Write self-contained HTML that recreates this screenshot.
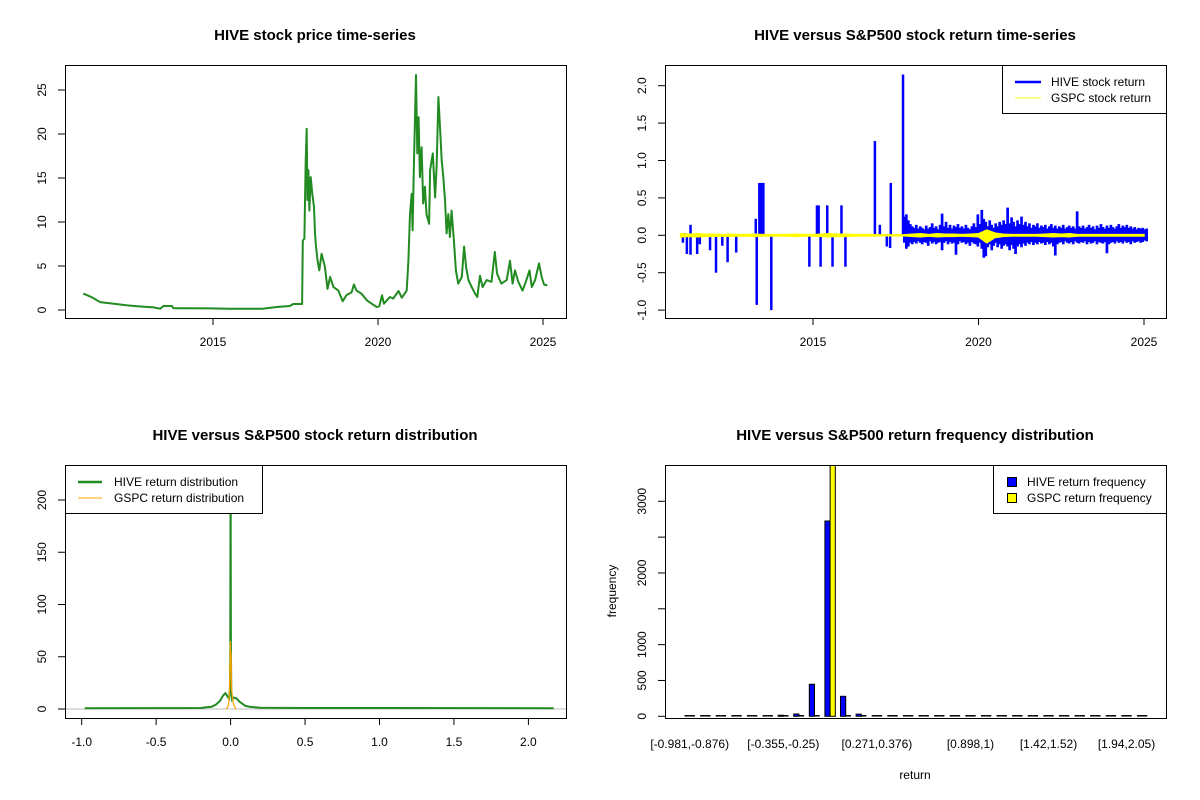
<!DOCTYPE html>
<html><head><meta charset="utf-8"><style>
html,body{margin:0;padding:0;background:#fff;}
svg{display:block;font-family:"Liberation Sans",Arial,sans-serif;}
</style></head><body>
<svg id="c" width="1200" height="800" viewBox="0 0 1200 800" xmlns="http://www.w3.org/2000/svg"></svg>
<script>
// ---------- DATA ----------
const priceYears = [2011.07,2011.3,2011.58,2011.9,2012.38,2012.8,2013.2,2013.4,2013.5,2013.75,2013.8,2014.3,2014.9,2015.5,2016.0,2016.5,2016.93,2017.33,2017.43,2017.7,2017.72,2017.77,2017.81,2017.84,2017.86,2017.89,2017.92,2017.96,2018.01,2018.06,2018.09,2018.12,2018.17,2018.22,2018.29,2018.39,2018.47,2018.55,2018.65,2018.8,2018.93,2019.05,2019.2,2019.27,2019.35,2019.5,2019.66,2019.81,2019.96,2020.04,2020.12,2020.18,2020.36,2020.46,2020.62,2020.72,2020.87,2020.92,2020.97,2021.02,2021.05,2021.09,2021.13,2021.15,2021.19,2021.23,2021.27,2021.32,2021.37,2021.42,2021.47,2021.55,2021.58,2021.66,2021.73,2021.78,2021.83,2021.88,2021.93,2021.98,2022.03,2022.08,2022.13,2022.18,2022.23,2022.3,2022.36,2022.43,2022.54,2022.61,2022.67,2022.74,2022.84,2022.94,2023.01,2023.09,2023.17,2023.29,2023.44,2023.54,2023.61,2023.74,2023.9,2024.0,2024.08,2024.15,2024.25,2024.38,2024.48,2024.59,2024.66,2024.76,2024.88,2024.96,2025.03,2025.13];
const priceValues = [1.86,1.5,0.9,0.75,0.53,0.4,0.3,0.15,0.45,0.45,0.2,0.2,0.18,0.15,0.15,0.15,0.34,0.45,0.68,0.68,7.9,8.1,17,20.6,12.5,15.9,11.3,15.1,13.2,11.7,8.7,7.2,5.6,4.5,6.4,4.9,2.4,3.75,2.6,2.2,1.0,1.7,2.0,2.9,2.2,1.86,1.1,0.72,0.34,0.42,1.67,0.72,1.48,1.29,2.16,1.4,2.2,5.6,10.9,13.2,9.05,17,23.4,26.7,17.8,21.9,15.1,18.5,12.1,14,10.9,9.8,15.9,17.8,12.8,16.6,24.2,20.8,17,15.1,12.5,8.7,10.9,8.3,11.3,7.9,4.5,3.0,3.75,7.2,4.9,3.4,2.6,1.86,1.48,3.9,2.6,3.4,3.2,6.6,4.1,3.0,3.4,5.6,3.0,4.5,3.2,2.2,3.2,4.5,2.6,3.4,5.3,3.75,2.9,2.8];

const spikeYears = [2011.07,2011.12,2011.19,2011.3,2011.3,2011.5,2011.58,2011.89,2012.07,2012.26,2012.42,2012.68,2013.27,2013.3,2013.38,2013.42,2013.46,2013.5,2013.74,2014.89,2015.12,2015.17,2015.23,2015.43,2015.59,2015.86,2015.98,2016.87,2017.02,2017.23,2017.33,2017.35,2017.72];
const spikeReturns = [-0.1,0.03,-0.25,-0.26,0.14,-0.25,-0.12,-0.2,-0.5,-0.14,-0.36,-0.23,0.22,-0.93,0.7,0.7,0.7,0.7,-1.0,-0.42,0.4,0.4,-0.42,0.4,-0.42,0.4,-0.42,1.26,0.14,-0.15,-0.17,0.7,2.15];
const denseStart = 2017.76, denseStep = 0.06;
const hiveHi = [.25,.28,.2,.15,.12,.1,.14,.09,.12,.1,.08,.13,.09,.11,.16,.1,.12,.08,.14,.29,.12,.18,.1,.14,.09,.13,.11,.15,.1,.12,.09,.14,.1,.08,.12,.16,.11,.28,.15,.34,.22,.18,.12,.2,.14,.1,.16,.12,.18,.14,.2,.15,.37,.16,.24,.18,.12,.2,.15,.25,.14,.18,.12,.16,.1,.14,.12,.16,.1,.13,.11,.14,.09,.12,.15,.1,.13,.09,.12,.1,.14,.09,.11,.13,.1,.12,.09,.32,.12,.1,.13,.09,.11,.14,.1,.12,.08,.13,.1,.15,.11,.09,.13,.1,.14,.11,.09,.12,.15,.1,.13,.11,.14,.1,.12,.09,.11,.08,.1,.09,.1,.08,.09];
const hiveLo = [-.1,-.18,-.15,-.1,-.12,-.09,-.11,-.08,-.1,-.12,-.09,-.1,-.14,-.08,-.11,-.09,-.12,-.1,-.09,-.2,-.1,-.08,-.12,-.09,-.11,-.1,-.26,-.12,-.08,-.1,-.09,-.12,-.1,-.14,-.09,-.11,-.12,-.15,-.1,-.18,-.3,-.28,-.16,-.12,-.2,-.14,-.1,-.16,-.12,-.18,-.14,-.12,-.15,-.2,-.13,-.18,-.25,-.15,-.12,-.16,-.11,-.14,-.1,-.12,-.09,-.13,-.1,-.12,-.09,-.11,-.1,-.13,-.09,-.12,-.1,-.15,-.27,-.12,-.1,-.09,-.12,-.08,-.1,-.11,-.09,-.12,-.08,-.1,-.11,-.09,-.1,-.08,-.12,-.09,-.11,-.1,-.08,-.12,-.09,-.1,-.11,-.09,-.24,-.12,-.1,-.09,-.11,-.08,-.1,-.09,-.11,-.08,-.1,-.09,-.12,-.08,-.1,-.09,-.08,-.1,-.09,-.07,-.08];
const gspcStart = 2011.0, gspcStep = 0.25;
const gspcHi = [.02,.015,.02,.015,.015,.01,.015,.01,.01,.015,.01,.01,.01,.01,.015,.01,.01,.015,.02,.015,.015,.01,.01,.01,.005,.005,.005,.005,.015,.02,.01,.02,.015,.015,.01,.015,.02,.07,.03,.015,.01,.01,.01,.01,.015,.02,.015,.02,.01,.01,.01,.01,.01,.01,.01,.01,.01];
const gspcLo = [-.02,-.015,-.02,-.015,-.015,-.01,-.015,-.01,-.01,-.015,-.01,-.01,-.01,-.01,-.015,-.01,-.01,-.015,-.02,-.015,-.015,-.01,-.01,-.01,-.005,-.005,-.005,-.005,-.015,-.02,-.01,-.02,-.015,-.015,-.01,-.015,-.02,-.1,-.03,-.015,-.01,-.01,-.01,-.01,-.015,-.02,-.015,-.02,-.01,-.01,-.01,-.01,-.01,-.01,-.01,-.01,-.01];

const hiveDensX = [-0.98,-0.2,-0.17,-0.13,-0.1,-0.07,-0.05,-0.035,-0.02,-0.01,-0.005,-0.002,0,0.002,0.005,0.01,0.02,0.04,0.06,0.08,0.1,0.13,0.2,0.5,2.17];
const hiveDensY = [0.8,1,1.5,2,4,8,13,15,12,10,18,60,240,60,16,9,11,10,7,5,3,2,1.2,1,0.8];
const gspcDensX = [-0.03,-0.015,-0.008,-0.004,-0.002,0,0.003,0.006,0.012,0.02,0.035];
const gspcDensY = [0,3,15,40,65,45,55,20,12,4,0];

const binLabels = ["[-0.981,-0.876)","[-0.355,-0.25)","[0.271,0.376)","[0.898,1)","[1.42,1.52)","[1.94,2.05)"];
const binLabelIdx = [0,6,12,18,23,28];
const hiveFreq = [1,0,0,1,0,10,15,32,447,2725,279,30,12,2,1,1,0,1,0,0,0,0,0,0,0,0,0,0,1,1];
const gspcFreq = [0,0,0,0,0,0,0,0,10,3525,5,0,0,0,0,0,0,0,0,0,0,0,0,0,0,0,0,0,0,0];

// ---------- HELPERS ----------
const svg = document.getElementById('c');
const NS = 'http://www.w3.org/2000/svg';
function mk(tag, attrs, parent){ const e=document.createElementNS(NS,tag); for(const k in attrs) e.setAttribute(k,attrs[k]); (parent||svg).appendChild(e); return e; }
function txt(s,x,y,opts,parent){ const e=mk('text',Object.assign({x:x,y:y,'font-size':12,'text-anchor':'middle',fill:'#000'},opts||{}),parent); e.textContent=s; return e; }

// ---------- PANEL 1 ----------
const p1x = y => 213 + (y-2015)*33;
const p1y = v => 310 - v*8.8;
let g1 = mk('g',{});


let t = txt('HIVE stock price time-series',315,40,{'font-size':15,'font-weight':'bold'},g1);
 
let pts = priceYears.map((y,i)=>p1x(y).toFixed(1)+','+p1y(priceValues[i]).toFixed(1)).join(' ');
let pl = mk('polyline',{points:pts,fill:'none',stroke:'#228B22','stroke-width':2,'stroke-linejoin':'round'},g1);
 
let b1 = mk('rect',{x:65.5,y:65.5,width:501,height:253,fill:'none',stroke:'#000'},g1);
 
mk('line',{x1:p1x(2015),x2:p1x(2025),y1:318.5,y2:318.5,stroke:'#000'},g1);
[2015,2020,2025].forEach(y=>{ mk('line',{x1:p1x(y),x2:p1x(y),y1:318,y2:325,stroke:'#000'},g1); let l=txt(String(y),p1x(y),346,{},g1);   });
mk('line',{x1:65.5,x2:65.5,y1:p1y(0),y2:p1y(25),stroke:'#000'},g1);
[0,5,10,15,20,25].forEach(v=>{ const y=p1y(v); mk('line',{x1:58,x2:65,y1:y,y2:y,stroke:'#000'},g1); let l=txt(String(v),0,0,{transform:`translate(46,${y}) rotate(-90)`},g1);   });

// ---------- PANEL 2 ----------
const p2x = y => 813 + (y-2015)*33.1;
const p2y = r => 235.3 - r*74.8;
let g2 = mk('g',{});


t = txt('HIVE versus S&P500 stock return time-series',915,40,{'font-size':15,'font-weight':'bold'},g2);
 
mk('line',{x1:p2x(2011.07),x2:p2x(2017.76),y1:p2y(0),y2:p2y(0),stroke:'#0000FF','stroke-width':2},g2);
spikeYears.forEach((y,i)=>{ let s=mk('line',{x1:p2x(y),x2:p2x(y),y1:p2y(0),y2:p2y(spikeReturns[i]),stroke:'#0000FF','stroke-width':2.5},g2);   });
hiveHi.forEach((h,i)=>{ const x=p2x(denseStart+i*denseStep); let s=mk('line',{x1:x,x2:x,y1:p2y(hiveLo[i]),y2:p2y(h),stroke:'#0000FF','stroke-width':2.7},g2);   });
let band = gspcHi.map((h,i)=>p2x(gspcStart+i*gspcStep).toFixed(1)+','+p2y(h).toFixed(1));
let bandLo = gspcLo.map((h,i)=>p2x(gspcStart+i*gspcStep).toFixed(1)+','+p2y(h).toFixed(1)).reverse();
let gb = mk('polygon',{points:band.concat(bandLo).join(' '),fill:'#FFFF00',stroke:'#FFFF00','stroke-width':1.5},g2);
 
mk('rect',{x:665.5,y:65.5,width:501,height:253,fill:'none',stroke:'#000'},g2);
mk('line',{x1:p2x(2015),x2:p2x(2025),y1:318.5,y2:318.5,stroke:'#000'},g2);
[2015,2020,2025].forEach(y=>{ mk('line',{x1:p2x(y),x2:p2x(y),y1:318,y2:325,stroke:'#000'},g2); let l=txt(String(y),p2x(y),346,{},g2);   });
mk('line',{x1:665.5,x2:665.5,y1:p2y(-1),y2:p2y(2),stroke:'#000'},g2);
['-1.0','-0.5','0.0','0.5','1.0','1.5','2.0'].forEach(s=>{ const y=p2y(parseFloat(s)); mk('line',{x1:658,x2:665,y1:y,y2:y,stroke:'#000'},g2); let l=txt(s,0,0,{transform:`translate(646,${y}) rotate(-90)`},g2);   });
let lg2 = mk('g',{},g2);
 
mk('rect',{x:1002.5,y:65.5,width:164,height:48,fill:'#fff',stroke:'#000'},lg2);
mk('line',{x1:1015,x2:1041,y1:82,y2:82,stroke:'#0000FF','stroke-width':2.5},lg2);
mk('line',{x1:1015,x2:1041,y1:98,y2:98,stroke:'#FFFF00','stroke-width':1},lg2);
txt('HIVE stock return',1051,86,{'text-anchor':'start'},lg2);
txt('GSPC stock return',1051,102,{'text-anchor':'start'},lg2);

// ---------- PANEL 3 ----------
const p3x = v => 230.6 + v*148.9;
const p3y = d => 709 - d*1.045;
let g3 = mk('g',{});


t = txt('HIVE versus S&P500 stock return distribution',315,440,{'font-size':15,'font-weight':'bold'},g3);
 
mk('clipPath',{id:'clip3'},g3);
mk('rect',{x:66,y:466,width:500,height:252},document.getElementById('clip3'));
mk('line',{x1:66,x2:566,y1:p3y(0),y2:p3y(0),stroke:'#BEBEBE'},g3);
let hd = mk('polyline',{points:hiveDensX.map((x,i)=>p3x(x).toFixed(1)+','+p3y(hiveDensY[i]).toFixed(1)).join(' '),fill:'none',stroke:'#228B22','stroke-width':2,'clip-path':'url(#clip3)'},g3);
 
let gd = mk('polyline',{points:gspcDensX.map((x,i)=>p3x(x).toFixed(1)+','+p3y(gspcDensY[i]).toFixed(1)).join(' '),fill:'none',stroke:'#FFA500','stroke-width':1.2},g3);
 
mk('rect',{x:65.5,y:465.5,width:501,height:253,fill:'none',stroke:'#000'},g3);
mk('line',{x1:p3x(-1),x2:p3x(2),y1:718.5,y2:718.5,stroke:'#000'},g3);
['-1.0','-0.5','0.0','0.5','1.0','1.5','2.0'].forEach(s=>{ const x=p3x(parseFloat(s)); mk('line',{x1:x,x2:x,y1:718,y2:725,stroke:'#000'},g3); let l=txt(s,x,746,{},g3);   });
mk('line',{x1:65.5,x2:65.5,y1:p3y(0),y2:p3y(200),stroke:'#000'},g3);
[0,50,100,150,200].forEach(v=>{ const y=p3y(v); mk('line',{x1:58,x2:65,y1:y,y2:y,stroke:'#000'},g3); let l=txt(String(v),0,0,{transform:`translate(46,${y}) rotate(-90)`},g3);   });
let lg3 = mk('g',{},g3);
 
mk('rect',{x:65.5,y:465.5,width:197,height:48,fill:'#fff',stroke:'#000'},lg3);
mk('line',{x1:78,x2:102,y1:482,y2:482,stroke:'#228B22','stroke-width':2.5},lg3);
mk('line',{x1:78,x2:102,y1:498,y2:498,stroke:'#FFA500','stroke-width':1},lg3);
txt('HIVE return distribution',114,486,{'text-anchor':'start'},lg3);
txt('GSPC return distribution',114,502,{'text-anchor':'start'},lg3);

// ---------- PANEL 4 ----------
const p4x = u => 666 + (u+2.56)*5.2;
const p4y = f => 716.3 - f*0.07167;
let g4 = mk('g',{});


t = txt('HIVE versus S&P500 return frequency distribution',915,440,{'font-size':15,'font-weight':'bold'},g4);
 
mk('clipPath',{id:'clip4'},g4);
mk('rect',{x:666,y:466,width:500,height:252},document.getElementById('clip4'));
let bars = mk('g',{'clip-path':'url(#clip4)'},g4);
function drawBar(f,u,fill,name){
  const x0=p4x(u), x1=p4x(u+1), h=p4y(0)-p4y(f);
  if(h>=1){
    let r=mk('rect',{x:x0,y:p4y(f),width:x1-x0,height:h,fill:fill,stroke:'#000','stroke-width':1},bars);
     
  } else {
    let r=mk('line',{x1:x0,x2:x1,y1:p4y(0)-0.5,y2:p4y(0)-0.5,stroke:'#000','stroke-width':1.5},bars);
     
  }
}
hiveFreq.forEach((f,i)=>drawBar(f,1+3*i,'#0000FF','hive-frequency-bar'));
gspcFreq.forEach((f,i)=>drawBar(f,2+3*i,'#FFFF00','gspc-frequency-bar'));
mk('rect',{x:665.5,y:465.5,width:501,height:253,fill:'none',stroke:'#000'},g4);
mk('line',{x1:665.5,x2:665.5,y1:p4y(0),y2:p4y(3000),stroke:'#000'},g4);
[0,500,1000,1500,2000,2500,3000].forEach(v=>{ const y=p4y(v); mk('line',{x1:658,x2:665,y1:y,y2:y,stroke:'#000'},g4); if(v!==1500&&v!==2500){ let l=txt(String(v),0,0,{transform:`translate(646,${y}) rotate(-90)`},g4);   } });
binLabels.forEach((s,k)=>{ let l=txt(s,p4x(3*binLabelIdx[k]+2),748,{},g4);   });
t = txt('frequency',0,0,{transform:'translate(616,591) rotate(-90)'},g4);
 
t = txt('return',915,779,{},g4);
 
let lg4 = mk('g',{},g4);
 
mk('rect',{x:993.5,y:465.5,width:173,height:48,fill:'#fff',stroke:'#000'},lg4);
mk('rect',{x:1007.5,y:477.5,width:9,height:9,fill:'#0000FF',stroke:'#000'},lg4);
mk('rect',{x:1007.5,y:493.5,width:9,height:9,fill:'#FFFF00',stroke:'#000'},lg4);
txt('HIVE return frequency',1027,486,{'text-anchor':'start'},lg4);
txt('GSPC return frequency',1027,502,{'text-anchor':'start'},lg4);
</script>
</body></html>
